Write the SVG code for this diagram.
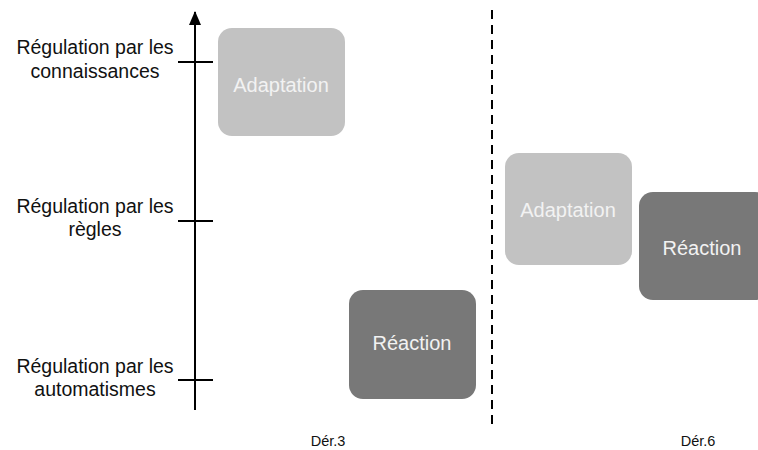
<svg xmlns="http://www.w3.org/2000/svg" width="758" height="450" viewBox="0 0 758 450">
<style>
.lbl{font-family:"Liberation Sans",Arial,sans-serif;font-size:19.5px;fill:#111;text-anchor:middle}
.sm{font-family:"Liberation Sans",Arial,sans-serif;font-size:14.5px;fill:#111;text-anchor:middle}
.bt{font-family:"Liberation Sans",Arial,sans-serif;font-size:20px;fill:#f2f2f2;text-anchor:middle}
.light{fill:#c2c2c2}
.dark{fill:#787878}
.ax{stroke:#000;stroke-width:2;fill:none}
</style>
<defs>
<marker id="arr" markerWidth="14" markerHeight="12" refX="13" refY="6" orient="auto" markerUnits="userSpaceOnUse">
<path d="M0,0 L14,6 L0,12 Z" fill="#000"/>
</marker>
</defs>
<g id="connectors">
<line class="ax" x1="195" y1="410" x2="195" y2="12" marker-end="url(#arr)"/>
<line class="ax" x1="178" y1="62" x2="213" y2="62"/>
<line class="ax" x1="178" y1="221" x2="213" y2="221"/>
<line class="ax" x1="178" y1="380" x2="213" y2="380"/>
<line x1="492" y1="10" x2="492" y2="428" stroke="#000" stroke-width="2" stroke-dasharray="9,6"/>
</g>
<g id="label-connaissances">
<text class="lbl" x="95" y="54">Régulation par les</text>
<text class="lbl" x="95" y="78">connaissances</text>
</g>
<g id="label-regles">
<text class="lbl" x="95" y="213">Régulation par les</text>
<text class="lbl" x="95" y="236">règles</text>
</g>
<g id="label-automatismes">
<text class="lbl" x="95" y="373">Régulation par les</text>
<text class="lbl" x="95" y="396">automatismes</text>
</g>
<g id="adaptation1">
<rect class="light" x="218" y="28" width="127" height="108" rx="14"/>
<text class="bt" x="281" y="92">Adaptation</text>
</g>
<g id="reaction1">
<rect class="dark" x="349" y="290" width="127" height="109" rx="14"/>
<text class="bt" x="412" y="350">Réaction</text>
</g>
<g id="adaptation2">
<rect class="light" x="505" y="153" width="127" height="112" rx="14"/>
<text class="bt" x="568" y="217">Adaptation</text>
</g>
<g id="reaction2">
<rect class="dark" x="639" y="192" width="130" height="108" rx="14"/>
<text class="bt" x="702" y="255">Réaction</text>
</g>
<g id="axis-labels">
<text class="sm" x="328" y="446">Dér.3</text>
<text class="sm" x="698" y="446">Dér.6</text>
</g>
</svg>
